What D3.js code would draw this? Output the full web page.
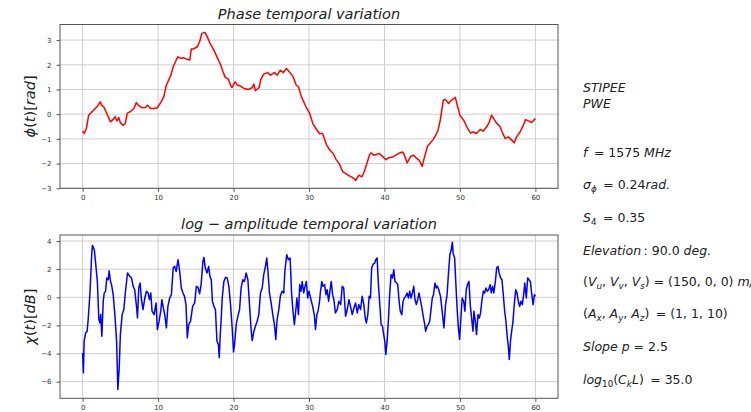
<!DOCTYPE html>
<html>
<head>
<meta charset="utf-8">
<script src="https://cdn.jsdelivr.net/npm/d3@7"></script>
<style>
  body { margin: 0; background: #fff; }
  svg { display: block; font-family: "DejaVu Sans", sans-serif; }
</style>
</head>
<body>
<script>
// phase (t in s, value in rad)
const phaseT = [0,0.2,0.5,0.8,1.25,1.9,2.35,2.5,2.8,3.2,3.7,4.1,4.3,4.55,4.8,5,5.4,5.65,5.9,6.3,6.8,7.1,7.4,7.9,8.3,8.6,9,9.4,9.9,10.1,10.4,10.75,11.1,11.4,11.7,12,12.3,12.6,13,13.4,13.85,14.2,14.4,14.7,15.2,15.5,15.8,16.2,16.5,16.9,17.4,17.8,18.3,18.6,18.9,19.3,19.6,19.8,20.2,20.5,20.9,21.4,22,22.5,22.7,22.9,23.4,23.6,24,24.5,24.9,25.4,25.8,26.2,26.6,27,27.5,27.9,28.3,28.6,29,29.6,30.1,30.5,31,31.4,31.8,32.3,32.7,33.2,33.6,34,34.5,34.9,35.4,35.8,36.2,36.6,37,37.3,37.6,38,38.2,38.6,39.3,39.7,40.2,40.6,41.1,41.5,42,42.4,42.6,43,43.5,43.9,44.3,44.6,45,45.2,45.7,46.1,46.4,46.8,47.1,47.4,47.8,48.1,48.5,48.9,49.4,49.6,50,50.5,50.9,51.4,51.8,52.2,52.7,53.1,53.6,53.9,54.2,54.6,54.9,55.3,55.6,56,56.4,56.8,57.2,57.5,57.9,58.4,58.7,59.1,59.5,60];
const phaseV = [-0.69,-0.78,-0.58,-0.04,0.1,0.3,0.5,0.37,0.3,0.03,-0.31,-0.2,-0.1,-0.27,-0.14,-0.35,-0.45,-0.38,0.03,0.1,0.23,0.46,0.36,0.26,0.27,0.36,0.23,0.23,0.26,0.36,0.5,0.7,1.18,1.38,1.58,1.92,2.12,2.32,2.26,2.28,2.22,2.19,2.64,2.64,2.73,2.93,3.27,3.31,3.14,2.86,2.59,2.32,1.99,1.72,1.49,1.42,1.18,1.08,1.31,1.18,1.14,1.04,1.0,1.08,1.22,0.95,1.08,1.4,1.62,1.68,1.58,1.68,1.58,1.78,1.68,1.85,1.68,1.51,1.18,1.11,0.7,0.3,0.03,-0.38,-0.62,-0.78,-0.78,-1.22,-1.43,-1.59,-1.84,-2.0,-2.34,-2.41,-2.51,-2.57,-2.68,-2.47,-2.54,-2.34,-2.07,-1.66,-1.57,-1.66,-1.59,-1.7,-1.84,-1.76,-1.73,-1.66,-1.57,-1.53,-1.62,-1.97,-1.7,-1.66,-1.8,-1.86,-2.11,-1.86,-1.3,-1.16,-1.05,-0.85,-0.65,-0.24,0.57,0.59,0.43,0.57,0.68,0.41,-0.04,-0.24,-0.51,-0.76,-0.72,-0.78,-0.62,-0.68,-0.49,-0.31,-0.04,-0.24,-0.38,-0.49,-0.72,-0.99,-0.92,-1.03,-1.16,-0.92,-0.76,-0.45,-0.22,-0.27,-0.34,-0.18];

// log-amplitude (dB)
const ampT = [0,0.1,0.2,0.4,0.6,0.75,0.97,1.2,1.3,1.55,1.7,1.95,2.15,2.3,2.4,2.55,2.73,2.86,3.04,3.2,3.4,3.5,3.7,3.83,4.05,4.27,4.5,4.67,4.85,5.0,5.24,5.46,5.68,5.95,6.26,6.48,6.7,6.9,7.14,7.27,7.44,7.62,7.8,8.0,8.24,8.46,8.68,8.85,9.03,9.2,9.47,9.74,9.9,10.13,10.35,10.5,10.7,10.88,11.1,11.3,11.54,11.76,12,12.2,12.4,12.64,12.86,13.08,13.3,13.5,13.7,13.87,14.05,14.3,14.58,14.85,15.07,15.3,15.5,15.7,15.94,16.08,16.26,16.48,16.7,16.87,17.05,17.2,17.4,17.6,17.8,18.0,18.1,18.24,18.37,18.5,18.72,18.94,19.16,19.38,19.6,19.82,20.0,20.13,20.35,20.57,20.8,21.0,21.23,21.45,21.67,21.9,22.1,22.33,22.47,22.7,22.9,23.13,23.35,23.57,23.8,24.0,24.23,24.4,24.58,24.76,24.98,25.2,25.42,25.6,25.77,26.0,26.2,26.43,26.65,26.8,27.05,27.27,27.5,27.7,27.9,28.06,28.24,28.4,28.6,28.77,28.94,29.1,29.3,29.47,29.65,29.82,30.0,30.26,30.48,30.7,30.86,31.04,31.2,31.4,31.5,31.7,31.85,32.07,32.25,32.4,32.6,32.8,32.95,33.13,33.3,33.5,33.74,33.96,34.2,34.4,34.6,34.85,35.07,35.3,35.5,35.73,35.95,36.17,36.4,36.6,36.83,37.05,37.27,37.45,37.6,37.8,37.97,38.15,38.3,38.5,38.7,38.85,39.03,39.2,39.4,39.56,39.74,39.9,40.04,40.18,40.35,40.53,40.7,40.88,41.06,41.23,41.4,41.6,41.76,41.94,42.1,42.3,42.47,42.64,42.8,43.0,43.17,43.35,43.52,43.7,43.88,44.05,44.23,44.4,44.58,44.75,44.93,45.1,45.3,45.46,45.64,45.8,46.0,46.17,46.34,46.5,46.7,46.87,47.0,47.2,47.43,47.65,47.88,48.1,48.3,48.5,48.67,48.85,49.0,49.1,49.3,49.47,49.65,49.8,49.96,50.13,50.3,50.5,50.66,50.84,51.0,51.2,51.37,51.55,51.73,51.86,52.04,52.2,52.4,52.57,52.74,52.9,53.1,53.27,53.45,53.63,53.8,54.0,54.16,54.34,54.5,54.7,54.87,55.04,55.2,55.4,55.57,55.75,55.93,56.1,56.28,56.4,56.55,56.7,56.86,57.04,57.2,57.4,57.57,57.74,57.92,58.1,58.27,58.45,58.6,58.8,58.98,59.16,59.34,59.5,59.7,59.87,60.0];
const ampV = [-3.95,-5.37,-3.12,-2.53,-2.41,-1.47,0.3,3.03,3.69,3.38,2.55,1.13,-1.58,-1.82,-1.23,-2.77,-0.28,0.3,0.43,1.37,1.25,1.89,1.13,0.9,0.19,-1.23,-3.12,-6.55,-5.0,-2.65,-1.23,-0.87,0.43,1.73,1.49,1.37,0.78,0.54,-0.64,-1.47,0.66,1.02,-0.17,-0.87,-0.05,0.43,0.31,-0.17,0.31,-0.99,-1.23,-0.4,-2.29,-1.7,-0.99,-0.17,-0.76,-1.23,-2.17,-0.64,-0.05,0.19,2.08,2.2,1.84,2.67,1.84,0.66,0.31,0.07,-0.52,-2.88,-1.94,-1.7,-0.64,-0.4,0.78,0.7,0.25,0.9,2.55,2.84,2.08,1.73,2.2,1.49,1.25,-0.28,-0.64,-0.87,-3.12,-3.36,-4.3,-2.65,-1.47,-0.05,1.13,1.42,1.37,0.78,-0.52,-2.17,-3.88,-3.36,-1.94,-1.35,-0.87,0.66,1.25,1.13,1.73,1.25,-0.4,-2.29,-3.07,-2.41,-2.06,-1.7,-1.23,0.31,0.66,1.61,2.2,2.79,1.73,0.31,-0.4,-1.23,-1.94,-3.0,-1.58,-0.87,0.07,0.43,0.31,1.84,3.03,2.67,2.79,0.19,-1.11,-1.94,-0.99,-0.05,-1.23,0.9,0.43,1.13,0.31,0.78,1.13,-0.05,0.43,-0.17,-0.64,-1.23,-2.29,-1.23,-0.99,-0.28,0.31,1.13,0.78,0.9,0.19,0.54,-0.28,0.54,1.13,0.19,-0.17,-1.11,-0.87,-0.28,-0.52,0.78,0.66,-1.35,-0.87,-0.17,-0.64,-1.23,-0.76,-0.4,-1.11,-0.52,-0.87,0.07,-0.52,-1.47,-1.82,-1.23,0.07,-0.05,2.08,2.36,2.43,2.67,2.79,0.9,-0.64,-1.94,-2.06,-2.65,-3.12,-4.07,-3.12,-1.58,0.31,1.61,1.37,1.96,1.13,1.02,0.9,-0.28,-0.99,-1.23,-0.28,-0.05,0.07,0.31,-0.05,0.43,-0.05,0.31,0.78,-0.17,-0.52,-0.17,0.31,-0.17,-0.64,-1.23,-1.82,-2.41,-2.06,-1.94,-1.7,-0.87,-0.05,0.19,1.02,0.66,0.8,0.54,0.07,-0.99,-2.17,-0.52,0.19,1.84,3.03,3.38,3.92,3.14,2.79,0.9,-0.99,-2.17,-3.0,-1.47,-0.05,-0.28,-0.99,0.54,0.9,1.13,-0.52,-1.47,-2.41,-0.99,-1.7,-2.65,-1.23,-1.47,-1.11,-0.28,0.43,0.31,0.66,0.43,0.54,0.9,0.31,0.78,0.31,1.13,2.08,2.2,1.73,1.37,1.25,0.19,-0.99,-1.7,-2.88,-3.36,-4.42,-3.12,-2.41,-1.7,-0.52,0.54,0.31,-0.28,-0.64,-0.28,-0.52,0.19,1.02,-0.05,1.37,1.25,1.13,0.31,-0.52,0.19,0.07];

const xTicks = [0, 10, 20, 30, 40, 50, 60];
const phaseTicks = [-3, -2, -1, 0, 1, 2, 3];
const ampTicks = [-6, -4, -2, 0, 2, 4];

// rich text pieces: i = italic, n = upright, s = italic subscript, sn = upright subscript
const infoLines = [
  [["STIPEE", "i"]],
  [["PWE", "i"]],
  [["f", "i"], ["\u2009 = 1575 ", "n"], ["MHz", "i"]],
  [["σ", "i"], ["ϕ", "s"], ["\u2009 = 0.24", "n"], ["rad.", "i"]],
  [["S", "i"], ["4", "sn"], ["\u2009 = 0.35", "n"]],
  [["Elevation", "i"], ["\u2009: 90.0 ", "n"], ["deg.", "i"]],
  [["(", "n"], ["V", "i"], ["u", "s"], [", ", "n"], ["V", "i"], ["v", "s"], [", ", "n"], ["V", "i"], ["s", "s"], [") = (150, 0, 0) ", "n"], ["m/s", "i"]],
  [["(", "n"], ["A", "i"], ["x", "s"], [", ", "n"], ["A", "i"], ["y", "s"], [", ", "n"], ["A", "i"], ["z", "s"], [")\u2009 = (1, 1, 10)", "n"]],
  [["Slope p", "i"], [" = 2.5", "n"]],
  [["log", "i"], ["10", "sn"], ["(", "n"], ["C", "i"], ["k", "s"], ["L", "i"], [")\u2009 = 35.0", "n"]]
];
const infoY = [92, 107.5, 157, 189, 222, 255, 286, 318, 351, 384];

const W = 751, H = 412;
const svg = d3.select("body").append("svg")
    .attr("width", W)
    .attr("height", H);

function rich(sel, parts, size) {
    parts.forEach(p => {
        const sub = p[1] === "s" || p[1] === "sn";
        const ts = sel.append("tspan")
            .text(p[0])
            .attr("font-style", (p[1] === "i" || p[1] === "s") ? "italic" : "normal");
        if (sub) {
            ts.attr("font-size", size * 0.7).attr("dy", size * 0.22);
        } else {
            ts.attr("font-size", size);
        }
    });
    // reset baseline after subscripts
    let shift = 0;
    sel.selectAll("tspan").each(function(d, i) {
        const p = parts[i];
        const sub = p[1] === "s" || p[1] === "sn";
        if (sub) { shift += size * 0.22; }
        else if (shift) { d3.select(this).attr("dy", -shift); shift = 0; }
    });
}

function panel(y0, y1, yDomain, yTicks, tVals, vVals, color, titleParts, labelParts) {
    const x = d3.scaleLinear().domain([-3, 63]).range([60, 558]);
    const y = d3.scaleLinear().domain(yDomain).range([y1, y0]);
    const g = svg.append("g");

    // grid
    g.selectAll(".gx").data(xTicks).enter().append("line")
        .attr("x1", d => x(d)).attr("x2", d => x(d))
        .attr("y1", y0).attr("y2", y1)
        .attr("stroke", "#cfcfcf").attr("stroke-width", 1);
    g.selectAll(".gy").data(yTicks).enter().append("line")
        .attr("x1", 60).attr("x2", 558)
        .attr("y1", d => y(d)).attr("y2", d => y(d))
        .attr("stroke", "#cfcfcf").attr("stroke-width", 1);

    const line = d3.line().x(d => x(d[0])).y(d => y(d[1]));
    g.append("path")
        .datum(d3.zip(tVals, vVals))
        .attr("d", line)
        .attr("fill", "none")
        .attr("stroke", color)
        .attr("stroke-width", 1.5)
        .attr("stroke-linejoin", "round");

    // frame
    g.append("rect")
        .attr("x", 60).attr("y", y0)
        .attr("width", 498).attr("height", y1 - y0)
        .attr("fill", "none").attr("stroke", "#555").attr("stroke-width", 1);

    const xa = g.append("g").attr("transform", `translate(0,${y1})`)
        .call(d3.axisBottom(x).tickValues(xTicks).tickFormat(d3.format("d")).tickSize(3.5).tickPadding(3));
    const ya = g.append("g").attr("transform", "translate(60,0)")
        .call(d3.axisLeft(y).tickValues(yTicks).tickFormat(d3.format("d")).tickSize(3.5).tickPadding(5));
    [xa, ya].forEach(a => {
        a.select(".domain").remove();
        a.selectAll("line").attr("stroke", "#555");
        a.selectAll("text").attr("fill", "#333").attr("font-size", 7)
            .attr("font-family", "DejaVu Sans");
    });

    const t = g.append("text")
        .attr("x", 309).attr("y", y0 - 6)
        .attr("text-anchor", "middle")
        .attr("fill", "#222");
    rich(t, titleParts, 14.5);

    const lab = g.append("text")
        .attr("transform", `translate(35,${(y0 + y1) / 2}) rotate(-90)`)
        .attr("text-anchor", "middle")
        .attr("fill", "#222");
    rich(lab, labelParts, 14.5);
}

panel(24.5, 188.3, [-3, 3.63], phaseTicks, phaseT, phaseV, "#ff0000",
    [["Phase temporal variation", "i"]],
    [["ϕ", "i"], ["(", "n"], ["t", "i"], [")[", "n"], ["rad", "i"], ["]", "n"]]);

panel(235, 398.3, [-7.18, 4.43], ampTicks, ampT, ampV, "#0000ff",
    [["log", "i"], [" − ", "n"], ["amplitude temporal variation", "i"]],
    [["χ", "i"], ["(", "n"], ["t", "i"], [")[", "n"], ["dB", "i"], ["]", "n"]]);

const info = svg.append("g");
infoLines.forEach((parts, i) => {
    const t = info.append("text")
        .attr("x", 583).attr("y", infoY[i])
        .attr("fill", "#222");
    rich(t, parts, 12.5);
});
</script>
</body>
</html>
